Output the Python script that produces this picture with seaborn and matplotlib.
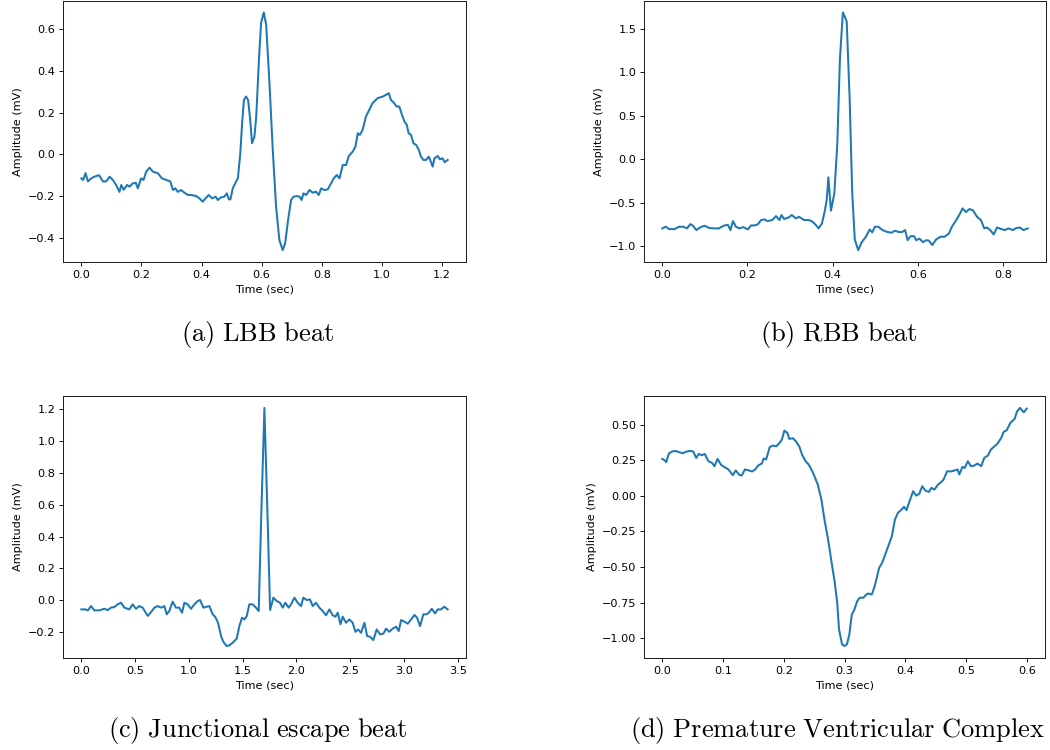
import numpy as np
import pandas as pd
import matplotlib
matplotlib.use("Agg")
import matplotlib.pyplot as plt
import seaborn as sns

# ---------------- data ----------------
lbb_t = [0.000, 0.006, 0.014, 0.022, 0.033, 0.044, 0.059, 0.072, 0.083, 0.094, 0.105, 0.116, 0.127, 0.133,
         0.141, 0.152, 0.161, 0.170, 0.181, 0.188, 0.199, 0.207, 0.216, 0.227, 0.238, 0.255, 0.268, 0.283,
         0.296, 0.305, 0.313, 0.321, 0.332, 0.343, 0.355, 0.366, 0.382, 0.393, 0.404, 0.413, 0.424, 0.435,
         0.447, 0.454, 0.465, 0.476, 0.484, 0.491, 0.496, 0.504, 0.515, 0.521, 0.529, 0.535, 0.541, 0.548,
         0.555, 0.562, 0.568, 0.576, 0.582, 0.591, 0.598, 0.607, 0.615, 0.626, 0.637, 0.648, 0.659, 0.670,
         0.678, 0.688, 0.698, 0.706, 0.717, 0.726, 0.733, 0.739, 0.748, 0.759, 0.770, 0.781, 0.790, 0.798,
         0.809, 0.820, 0.831, 0.840, 0.850, 0.859, 0.870, 0.881, 0.890, 0.903, 0.912, 0.920, 0.927, 0.936,
         0.947, 0.958, 0.969, 0.986, 1.003, 1.014, 1.023, 1.030, 1.041, 1.049, 1.058, 1.067, 1.075, 1.083,
         1.089, 1.097, 1.105, 1.114, 1.123, 1.130, 1.138, 1.147, 1.156, 1.163, 1.169, 1.175, 1.186, 1.193,
         1.202, 1.209, 1.219]
lbb_v = [-0.115, -0.123, -0.090, -0.130, -0.115, -0.107, -0.100, -0.130, -0.130, -0.107, -0.123, -0.147,
         -0.180, -0.147, -0.170, -0.147, -0.155, -0.140, -0.136, -0.163, -0.115, -0.123, -0.083, -0.064,
         -0.083, -0.091, -0.115, -0.123, -0.130, -0.171, -0.163, -0.180, -0.171, -0.184, -0.195, -0.195,
         -0.200, -0.211, -0.227, -0.211, -0.195, -0.211, -0.203, -0.219, -0.206, -0.203, -0.187, -0.216,
         -0.216, -0.163, -0.130, -0.115, 0.005, 0.149, 0.260, 0.277, 0.260, 0.165, 0.053, 0.085, 0.181,
         0.453, 0.629, 0.680, 0.621, 0.341, 0.021, -0.251, -0.411, -0.459, -0.427, -0.315, -0.219, -0.203,
         -0.200, -0.203, -0.219, -0.187, -0.195, -0.171, -0.184, -0.179, -0.195, -0.163, -0.171, -0.168,
         -0.139, -0.115, -0.099, -0.115, -0.051, -0.051, -0.008, 0.013, 0.037, 0.101, 0.093, 0.117, 0.181,
         0.213, 0.245, 0.269, 0.277, 0.285, 0.293, 0.261, 0.245, 0.229, 0.229, 0.189, 0.157, 0.141, 0.101,
         0.093, 0.053, 0.045, 0.021, -0.011, -0.027, -0.027, -0.011, -0.035, -0.059, -0.019, -0.008, -0.024,
         -0.019, -0.038, -0.027]

rbb_t = [0.000, 0.008, 0.016, 0.029, 0.039, 0.050, 0.058, 0.066, 0.072, 0.080, 0.089, 0.099, 0.111, 0.123,
         0.133, 0.144, 0.154, 0.160, 0.166, 0.173, 0.181, 0.190, 0.201, 0.208, 0.216, 0.224, 0.232, 0.240,
         0.247, 0.258, 0.267, 0.275, 0.280, 0.286, 0.297, 0.304, 0.314, 0.321, 0.333, 0.345, 0.353, 0.362,
         0.367, 0.375, 0.382, 0.386, 0.390, 0.396, 0.404, 0.411, 0.417, 0.424, 0.433, 0.440, 0.446, 0.452,
         0.460, 0.468, 0.478, 0.487, 0.493, 0.499, 0.507, 0.517, 0.527, 0.538, 0.546, 0.556, 0.563, 0.570,
         0.576, 0.583, 0.591, 0.596, 0.604, 0.612, 0.620, 0.626, 0.634, 0.643, 0.653, 0.663, 0.673, 0.680,
         0.690, 0.698, 0.705, 0.713, 0.721, 0.729, 0.739, 0.748, 0.756, 0.762, 0.770, 0.778, 0.786, 0.794,
         0.804, 0.813, 0.823, 0.831, 0.839, 0.848, 0.858]
rbb_v = [-0.796, -0.777, -0.804, -0.804, -0.777, -0.777, -0.796, -0.746, -0.765, -0.815, -0.785, -0.765,
         -0.792, -0.796, -0.796, -0.765, -0.754, -0.815, -0.712, -0.777, -0.796, -0.781, -0.808, -0.762,
         -0.762, -0.750, -0.700, -0.692, -0.712, -0.700, -0.654, -0.700, -0.642, -0.688, -0.669, -0.642,
         -0.681, -0.662, -0.700, -0.700, -0.719, -0.765, -0.796, -0.738, -0.585, -0.469, -0.208, -0.592,
         -0.392, 0.185, 1.146, 1.692, 1.588, 0.685, -0.392, -0.923, -1.046, -0.958, -0.892, -0.808, -0.842,
         -0.777, -0.777, -0.815, -0.835, -0.846, -0.823, -0.838, -0.838, -0.815, -0.931, -0.885, -0.885,
         -0.931, -0.915, -0.954, -0.931, -0.938, -0.988, -0.923, -0.892, -0.892, -0.854, -0.777, -0.700,
         -0.635, -0.565, -0.608, -0.573, -0.585, -0.662, -0.700, -0.796, -0.785, -0.815, -0.865, -0.785,
         -0.800, -0.815, -0.796, -0.815, -0.792, -0.785, -0.815, -0.796]

jeb_t = [0.000, 0.037, 0.062, 0.090, 0.121, 0.167, 0.214, 0.245, 0.276, 0.307, 0.338, 0.369, 0.400, 0.446,
         0.477, 0.508, 0.539, 0.570, 0.617, 0.648, 0.679, 0.710, 0.741, 0.772, 0.794, 0.818, 0.849, 0.880,
         0.911, 0.936, 0.958, 0.989, 1.020, 1.051, 1.082, 1.104, 1.135, 1.166, 1.190, 1.221, 1.246, 1.271,
         1.299, 1.321, 1.352, 1.376, 1.407, 1.445, 1.469, 1.494, 1.516, 1.538, 1.562, 1.593, 1.624, 1.649,
         1.671, 1.702, 1.733, 1.755, 1.786, 1.816, 1.847, 1.872, 1.897, 1.928, 1.950, 1.981, 2.012, 2.043,
         2.064, 2.095, 2.126, 2.151, 2.182, 2.213, 2.244, 2.275, 2.306, 2.337, 2.362, 2.384, 2.409, 2.430,
         2.461, 2.492, 2.523, 2.548, 2.573, 2.601, 2.632, 2.657, 2.684, 2.715, 2.746, 2.777, 2.808, 2.833,
         2.864, 2.895, 2.926, 2.951, 2.973, 3.004, 3.035, 3.066, 3.097, 3.121, 3.149, 3.180, 3.211, 3.236,
         3.258, 3.289, 3.313, 3.344, 3.375, 3.406]
jeb_v = [-0.059, -0.059, -0.065, -0.038, -0.065, -0.065, -0.055, -0.063, -0.048, -0.044, -0.027, -0.017,
         -0.048, -0.059, -0.027, -0.055, -0.038, -0.048, -0.100, -0.076, -0.048, -0.038, -0.048, -0.038,
         -0.090, -0.069, -0.010, -0.048, -0.048, -0.080, -0.017, -0.027, -0.055, -0.027, -0.006, 0.000,
         -0.048, -0.042, -0.038, -0.090, -0.107, -0.143, -0.227, -0.264, -0.290, -0.285, -0.269, -0.243,
         -0.164, -0.111, -0.122, -0.101, -0.027, -0.027, -0.048, -0.069, 0.487, 1.210, 0.487, -0.063, 0.015,
         -0.006, -0.017, -0.048, -0.017, -0.048, -0.027, 0.015, -0.017, -0.038, 0.015, 0.000, 0.004, -0.038,
         -0.017, -0.048, -0.069, -0.096, -0.059, -0.096, -0.105, -0.080, -0.153, -0.105, -0.143, -0.122,
         -0.143, -0.200, -0.185, -0.206, -0.143, -0.227, -0.231, -0.252, -0.185, -0.216, -0.212, -0.180,
         -0.200, -0.180, -0.168, -0.195, -0.126, -0.136, -0.149, -0.122, -0.094, -0.111, -0.164, -0.090,
         -0.090, -0.076, -0.055, -0.084, -0.059, -0.059, -0.042, -0.059]

pvc_t = [0.000, 0.004, 0.0065, 0.011, 0.016, 0.022, 0.028, 0.034, 0.040, 0.047, 0.051, 0.056, 0.060, 0.065,
         0.070, 0.076, 0.082, 0.086, 0.091, 0.097, 0.102, 0.109, 0.116, 0.121, 0.127, 0.131, 0.136, 0.143,
         0.148, 0.153, 0.158, 0.164, 0.167, 0.171, 0.177, 0.182, 0.188, 0.193, 0.197, 0.201, 0.206, 0.209,
         0.215, 0.220, 0.226, 0.230, 0.236, 0.241, 0.247, 0.251, 0.256, 0.262, 0.267, 0.273, 0.278, 0.284,
         0.288, 0.291, 0.296, 0.300, 0.304, 0.308, 0.312, 0.316, 0.321, 0.325, 0.331, 0.336, 0.339, 0.345,
         0.350, 0.357, 0.362, 0.367, 0.372, 0.378, 0.383, 0.388, 0.394, 0.398, 0.402, 0.408, 0.413, 0.418,
         0.423, 0.428, 0.433, 0.439, 0.443, 0.448, 0.454, 0.459, 0.463, 0.469, 0.475, 0.481, 0.486, 0.489,
         0.494, 0.498, 0.503, 0.508, 0.514, 0.519, 0.525, 0.530, 0.536, 0.541, 0.547, 0.552, 0.558, 0.562,
         0.567, 0.573, 0.580, 0.584, 0.589, 0.595, 0.600]
pvc_v = [0.259, 0.250, 0.236, 0.297, 0.311, 0.315, 0.306, 0.299, 0.311, 0.315, 0.311, 0.266, 0.294, 0.285,
         0.294, 0.243, 0.231, 0.208, 0.259, 0.217, 0.203, 0.185, 0.145, 0.178, 0.147, 0.143, 0.185, 0.178,
         0.171, 0.185, 0.213, 0.227, 0.262, 0.255, 0.343, 0.353, 0.348, 0.371, 0.395, 0.458, 0.442, 0.400,
         0.404, 0.383, 0.343, 0.290, 0.243, 0.220, 0.173, 0.133, 0.079, -0.026, -0.166, -0.306, -0.446,
         -0.610, -0.750, -0.937, -1.042, -1.054, -1.042, -0.972, -0.832, -0.801, -0.738, -0.715, -0.715,
         -0.692, -0.685, -0.692, -0.629, -0.505, -0.470, -0.411, -0.353, -0.283, -0.166, -0.119, -0.096,
         -0.077, -0.100, -0.026, 0.033, 0.002, 0.014, 0.068, 0.037, 0.028, 0.056, 0.044, 0.079, 0.096,
         0.114, 0.173, 0.171, 0.178, 0.185, 0.150, 0.203, 0.196, 0.243, 0.208, 0.213, 0.227, 0.208, 0.266,
         0.283, 0.325, 0.348, 0.367, 0.407, 0.449, 0.460, 0.512, 0.540, 0.593, 0.617, 0.586, 0.612]

captions = ["(a) LBB beat", "(b) RBB beat", "(c) Junctional escape beat",
            "(d) Premature Ventricular Complex"]
x_label = "Time (sec)"
y_label = "Amplitude (mV)"

# ---------------- style ----------------
s = 0.81
plt.rcParams.update({
    "font.family": ["DejaVu Sans"],
    "font.size": 10 * s,
    "axes.linewidth": 0.9 * s,
    "axes.edgecolor": "#222222",
    "xtick.major.size": 3.5 * s,
    "ytick.major.size": 3.5 * s,
    "xtick.major.width": 0.8 * s,
    "ytick.major.width": 0.8 * s,
    "xtick.major.pad": 3.5 * s,
    "ytick.major.pad": 3.5 * s,
    "axes.labelpad": 4.0 * s,
    "mathtext.fontset": "cm",
})

fig = plt.figure(figsize=(10.5, 7.5), dpi=100)
W, H = 1050.0, 750.0
boxes = [(63, 0.5, 466, 262), (644, 0.5, 1046, 262), (63, 396, 466, 658), (644, 396, 1045, 658)]
series = [(lbb_t, lbb_v), (rbb_t, rbb_v), (jeb_t, jeb_v), (pvc_t, pvc_v)]
cap_pos = [(258, 335), (839, 335), (258, 731), (838, 731)]

for (l, t, r, b), (xs, ys), cap, (cx, cy) in zip(boxes, series, captions, cap_pos):
    ax = fig.add_axes([l / W, 1 - b / H, (r - l) / W, (b - t) / H])
    df = pd.DataFrame({"t": xs, "v": ys})
    sns.lineplot(data=df, x="t", y="v", ax=ax, color="#1f77b4", linewidth=1.45,
                 estimator=None, sort=False)
    ax.set_xlabel(x_label)
    ax.set_ylabel(y_label)
    ax.tick_params(labelsize=10 * s)
    for sp in ax.spines.values():
        sp.set_visible(True)
    txt = r"$\mathrm{" + cap.replace(" ", r"\ ") + "}$"
    fig.text(cx / W, 1 - cy / H, txt, ha="center", va="center", fontsize=19)

fig.savefig("out.png", dpi=100)
